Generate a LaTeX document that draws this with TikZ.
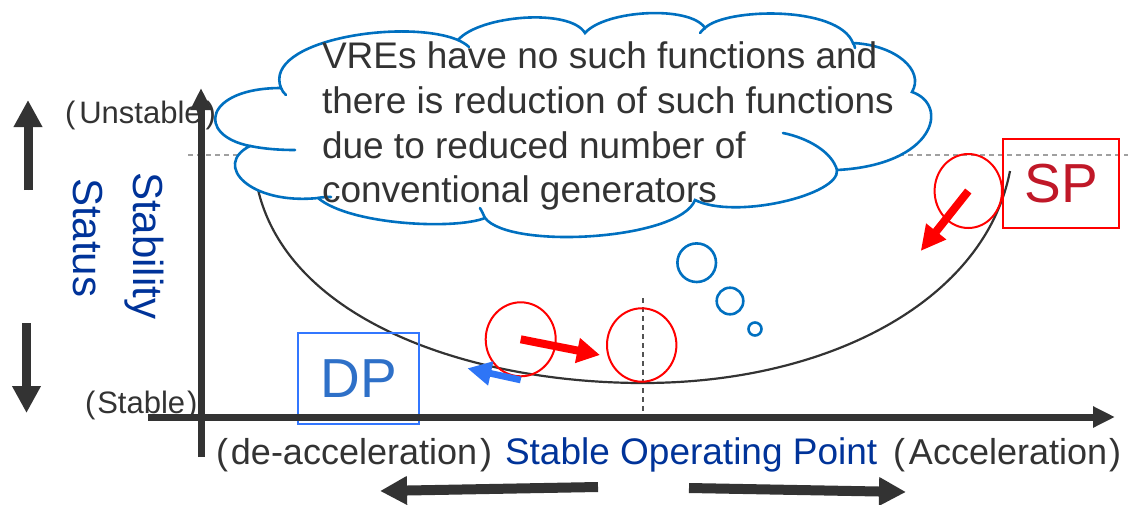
\documentclass[tikz,border=0pt]{standalone}
\usepackage{fontspec}
\setmainfont{Liberation Sans}
\usetikzlibrary{arrows.meta,shapes.geometric}

\definecolor{ink}{RGB}{51,51,51}
\definecolor{navy}{RGB}{0,51,153}
\definecolor{cloudblue}{RGB}{0,112,192}
\definecolor{dpblue}{RGB}{46,112,200}
\definecolor{boxblue}{RGB}{51,119,255}
\definecolor{arrowblue}{RGB}{46,117,246}
\definecolor{spred}{RGB}{192,24,40}
\definecolor{guide}{RGB}{160,160,160}

\newcommand\fsz[1]{\fontsize{#1}{#1}\selectfont}

\tikzset{
  lbl/.style={inner sep=0pt, outer sep=0pt, text=ink},
  cloudline/.style={draw=cloudblue, line width=2.6pt, line join=miter},
  hook/.style={draw=cloudblue, line width=2.6pt, line cap=round},
  ball/.style={ellipse, draw=red, line width=2pt, inner sep=0pt},
  bubble/.style={circle, draw=cloudblue, line width=2.6pt, inner sep=0pt},
  axisline/.style={draw=ink, line width=7pt, -{Triangle[length=22pt,width=20pt]}},
  fatarrow/.style={draw=ink, fill=ink, line width=9pt, -{Triangle[length=27pt,width=27pt]}},
  redarrow/.style={draw=red, line width=8pt, -{Triangle[length=23pt,width=24pt]}},
  bluearrow/.style={draw=arrowblue, line width=6.7pt, -{Triangle[length=24pt,width=23pt]}},
}

\begin{document}
\begin{tikzpicture}[x=1pt,y=-1pt]
\useasboundingbox (0,0) rectangle (1128,504);

% guide lines
\coordinate (hg1) at (188,155);
\coordinate (hg2) at (1128,155);
\draw[guide, line width=1.5pt, dash pattern=on 5pt off 4pt] (hg1) -- (hg2);
\coordinate (vg1) at (643,298);
\coordinate (vg2) at (643,414);
\draw[ink!85, line width=1.3pt, dash pattern=on 5pt off 4pt] (vg1) -- (vg2);

% potential bowl
\coordinate (bowlL) at (257,185);
\coordinate (bowlB) at (643,383);
\coordinate (bowlR) at (1010,171);
\draw[ink, line width=2.2pt] (bowlL) .. controls (285,320) and (470,383) .. (bowlB)
  .. controls (830,383) and (985,300) .. (bowlR);

% thought cloud
\draw[cloudline, fill=white]
  (281,88) .. controls (262,40) and (405,18) .. (458,40)
  .. controls (480,15) and (570,8) .. (585,33)
  .. controls (605,10) and (690,5) .. (705,28)
  .. controls (725,8) and (838,5) .. (853,43)
  .. controls (895,45) and (925,70) .. (912,92)
  .. controls (950,105) and (935,165) .. (837,170)
  .. controls (840,195) and (735,220) .. (695,200)
  .. controls (680,240) and (510,250) .. (485,218)
  .. controls (455,230) and (350,225) .. (318,198)
  .. controls (250,205) and (212,165) .. (250,146)
  .. controls (195,135) and (205,88) .. (281,88) -- cycle;
% inner hooks of the cloud
\draw[hook] (250,146) .. controls (265,149) and (280,150) .. (295,150);
\draw[hook] (837,170) .. controls (832,152) and (808,138) .. (783,133);
\draw[hook] (281,88) .. controls (282,91) and (284,93) .. (286,95);
\draw[hook] (458,40) .. controls (462,42) and (466,44) .. (469,47);
\draw[hook] (485,218) .. controls (483,214) and (482,211) .. (480,208);
\draw[hook] (705,28) .. controls (703,30) and (701,31) .. (700,33);
\draw[hook] (853,43) .. controls (854,45) and (855,46) .. (855,48);
\draw[hook] (318,198) .. controls (322,197) and (327,197) .. (331,197);

\node[lbl, anchor=base west, font=\fsz{37}] (t1) at (322,68) {VREs have no such functions and};
\node[lbl, anchor=base west, font=\fsz{37}] (t2) at (322,113) {there is reduction of such functions};
\node[lbl, anchor=base west, font=\fsz{37}] (t3) at (322,158) {due to reduced number of};
\node[lbl, anchor=base west, font=\fsz{37}] (t4) at (322,202) {conventional generators};

% trailing bubbles
\node[bubble, minimum size=38.6pt] (bub1) at (696.7,262.7) {};
\node[bubble, minimum size=26.6pt] (bub2) at (730,301) {};
\node[bubble, minimum size=13pt] (bub3) at (755,329) {};

% side labels
\node[lbl, anchor=base west, font=\fsz{31}] (unst) at (65,123) {(\hspace{4pt}Unstable\hspace{4pt})};
\node[lbl, anchor=base west, font=\fsz{31}] (stab) at (85,413) {(\hspace{2pt}Stable\hspace{2pt})};
\node[lbl, text=navy, anchor=base west, rotate=-90, font=\fsz{42}] (ylab1) at (133,172) {Stability};
\node[lbl, text=navy, anchor=base west, rotate=-90, font=\fsz{42}] (ylab2) at (73,178) {Status};

% operating point boxes
\node[draw=boxblue, line width=1.3pt, minimum width=121pt, minimum height=91pt,
      text=dpblue, font=\fsz{55}, inner sep=0pt] (dp) at (358.5,378.5) {DP};
\node[draw=red, line width=1.5pt, minimum width=116pt, minimum height=89pt,
      text=spred, font=\fsz{55}, inner sep=0pt] (sp) at (1061,183.5) {SP};

% axes
\coordinate (xa0) at (148,417);
\coordinate (xa1) at (1115,417);
\coordinate (ya0) at (201,457);
\coordinate (ya1) at (201,88);
\draw[axisline] (xa0) -- (xa1);
\draw[axisline] (ya0) -- (ya1);

% big direction arrows
\coordinate (up0) at (28,190);
\coordinate (up1) at (28,100);
\coordinate (dn0) at (26.5,323);
\coordinate (dn1) at (26.5,413);
\draw[fatarrow] (up0) -- (up1);
\draw[fatarrow] (dn0) -- (dn1);
\coordinate (lf0) at (598,487);
\coordinate (lf1) at (380,491);
\coordinate (rt0) at (689,488);
\coordinate (rt1) at (906,492);
\draw[fatarrow, line width=10pt] (lf0) -- (lf1);
\draw[fatarrow, line width=10pt] (rt0) -- (rt1);

% bottom labels
\node[lbl, anchor=base west, font=\fsz{36}] (decel) at (216,464) {(\hspace{3pt}de-acceleration\hspace{3pt})};
\node[lbl, text=navy, anchor=base west, font=\fsz{37}] (sop) at (505,464) {Stable Operating Point};
\node[lbl, anchor=base west, font=\fsz{36}] (accel) at (893,464) {(\hspace{4pt}Acceleration\hspace{2pt})};

% balls
\node[ball, minimum width=70pt, minimum height=74pt] (ballA) at (520.7,339.3) {};
\node[ball, minimum width=69.4pt, minimum height=73.4pt] (ballB) at (641.7,345) {};
\node[ball, minimum width=67.4pt, minimum height=74pt] (ballS) at (968.3,191) {};

\coordinate (tipA) at (600,355);
\coordinate (tipS) at (920.7,251);
\coordinate (bl0) at (520.7,380);
\coordinate (bl1) at (467.3,368.3);
\draw[redarrow] (ballA.center) -- (tipA);
\draw[redarrow, -{Triangle[length=25pt,width=24pt]}] (ballS.center) -- (tipS);
\draw[bluearrow] (bl0) -- (bl1);
\end{tikzpicture}
\end{document}
